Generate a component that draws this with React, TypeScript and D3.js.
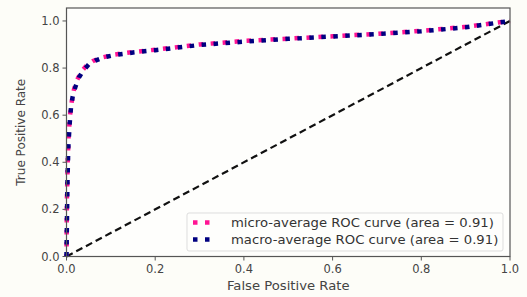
import React, { useEffect, useRef } from 'react'
import * as d3 from 'd3'

// micro-average ROC curve
const microFpr = [0, 0.001, 0.003, 0.005, 0.008, 0.012, 0.017, 0.024, 0.033, 0.045, 0.06, 0.08, 0.11, 0.15, 0.2, 0.3, 0.4, 0.5, 0.6, 0.7, 0.8, 0.9, 1.0]
const microTpr = [0, 0.25, 0.42, 0.52, 0.6, 0.66, 0.71, 0.75, 0.785, 0.81, 0.83, 0.845, 0.858, 0.868, 0.878, 0.9, 0.915, 0.925, 0.935, 0.945, 0.958, 0.975, 1.0]

// macro-average ROC curve
const macroFpr = [0, 0.002, 0.004, 0.007, 0.01, 0.014, 0.02, 0.028, 0.038, 0.05, 0.065, 0.085, 0.11, 0.15, 0.2, 0.3, 0.4, 0.5, 0.6, 0.7, 0.8, 0.9, 1.0]
const macroTpr = [0, 0.3, 0.46, 0.56, 0.63, 0.68, 0.72, 0.76, 0.79, 0.815, 0.832, 0.846, 0.856, 0.866, 0.876, 0.898, 0.912, 0.924, 0.934, 0.944, 0.956, 0.973, 1.0]

const xTicks = [0, 0.2, 0.4, 0.6, 0.8, 1.0]
const yTicks = [0, 0.2, 0.4, 0.6, 0.8, 1.0]
const legendLabels = ['micro-average ROC curve (area = 0.91)', 'macro-average ROC curve (area = 0.91)']
const colors = ['deeppink', 'navy']

export default function App() {
    const ref = useRef<SVGSVGElement>(null)

    useEffect(() => {
        let width = 527, height = 297
        let left = 66.5, right = 510, top = 8, bottom = 256.5
        let font = 'DejaVu Sans, sans-serif'
        let stretch = 1.1

        const svg = d3.select(ref.current)
        svg.selectAll('*').remove()

        svg.append('rect').attr('width', width).attr('height', height).attr('fill', '#fdfdf8')

        const x = d3.scaleLinear().domain([0, 1]).range([left, right])
        const y = d3.scaleLinear().domain([0, 1.055]).range([bottom, top])

        svg.append('rect')
            .attr('x', left).attr('y', top)
            .attr('width', right - left).attr('height', bottom - top)
            .attr('fill', '#fefefc')

        const line = d3.line<[number, number]>().x(d => x(d[0])).y(d => y(d[1]))

        // chance diagonal
        svg.append('path')
            .attr('d', line([[0, 0], [1, 1]]))
            .attr('fill', 'none')
            .attr('stroke', '#111')
            .attr('stroke-width', 2.2)
            .attr('stroke-dasharray', '7 4')

        const curves: [number, number][][] = [
            microFpr.map((v, i) => [v, microTpr[i]]),
            macroFpr.map((v, i) => [v, macroTpr[i]]),
        ]
        curves.forEach((c, i) => {
            svg.append('path')
                .attr('d', line(c))
                .attr('fill', 'none')
                .attr('stroke', colors[i])
                .attr('stroke-width', 4.5)
                .attr('stroke-dasharray', '4.5 7.5')
                .attr('stroke-dashoffset', i == 0 ? 2 : 0)
        })

        // frame
        svg.append('rect')
            .attr('x', left).attr('y', top)
            .attr('width', right - left).attr('height', bottom - top)
            .attr('fill', 'none').attr('stroke', '#555').attr('stroke-width', 1.2)

        const xAxis = svg.append('g')
        xTicks.forEach(t => {
            xAxis.append('line').attr('x1', x(t)).attr('x2', x(t)).attr('y1', bottom).attr('y2', bottom + 4)
                .attr('stroke', '#555')
            xAxis.append('text').attr('x', x(t)).attr('y', bottom + 16)
                .attr('text-anchor', 'middle').attr('font-family', font).attr('font-size', 11.5)
                .attr('fill', '#444').text(t.toFixed(1))
        })
        const yAxis = svg.append('g')
        yTicks.forEach(t => {
            yAxis.append('line').attr('x1', left - 4).attr('x2', left).attr('y1', y(t)).attr('y2', y(t))
                .attr('stroke', '#555')
            yAxis.append('text').attr('x', left - 7).attr('y', y(t) + 4)
                .attr('text-anchor', 'end').attr('font-family', font).attr('font-size', 11.5)
                .attr('fill', '#444').text(t.toFixed(1))
        })

        svg.append('text')
            .attr('transform', 'translate(' + ((left + right) / 2) + ',290) scale(' + stretch + ',1)')
            .attr('text-anchor', 'middle').attr('font-family', font).attr('font-size', 12)
            .attr('fill', '#444').text('False Positive Rate')
        svg.append('text')
            .attr('transform', 'translate(25,' + ((top + bottom) / 2) + ') rotate(-90)')
            .attr('text-anchor', 'middle').attr('font-family', font).attr('font-size', 12)
            .attr('fill', '#444').text('True Positive Rate')

        // legend
        const lg = svg.append('g').attr('transform', 'translate(187,213)')
        lg.append('rect').attr('width', 316).attr('height', 38).attr('rx', 2)
            .attr('fill', '#fefefc').attr('stroke', '#ddd').attr('stroke-width', 1)
        legendLabels.forEach((l, i) => {
            lg.append('line').attr('x1', 6).attr('x2', 26)
                .attr('y1', 9.5 + i * 17).attr('y2', 9.5 + i * 17)
                .attr('stroke', colors[i]).attr('stroke-width', 4.5)
                .attr('stroke-dasharray', '4.5 7.5')
            lg.append('text')
                .attr('transform', 'translate(44,' + (14 + i * 17) + ') scale(' + stretch + ',1)')
                .attr('font-family', font).attr('font-size', 12).attr('fill', '#333').text(l)
        })
    }, [])

    return (
        <svg ref={ref} width={527} height={297} style={{ position: 'absolute', left: 0, top: 0 }} />
    )
}
